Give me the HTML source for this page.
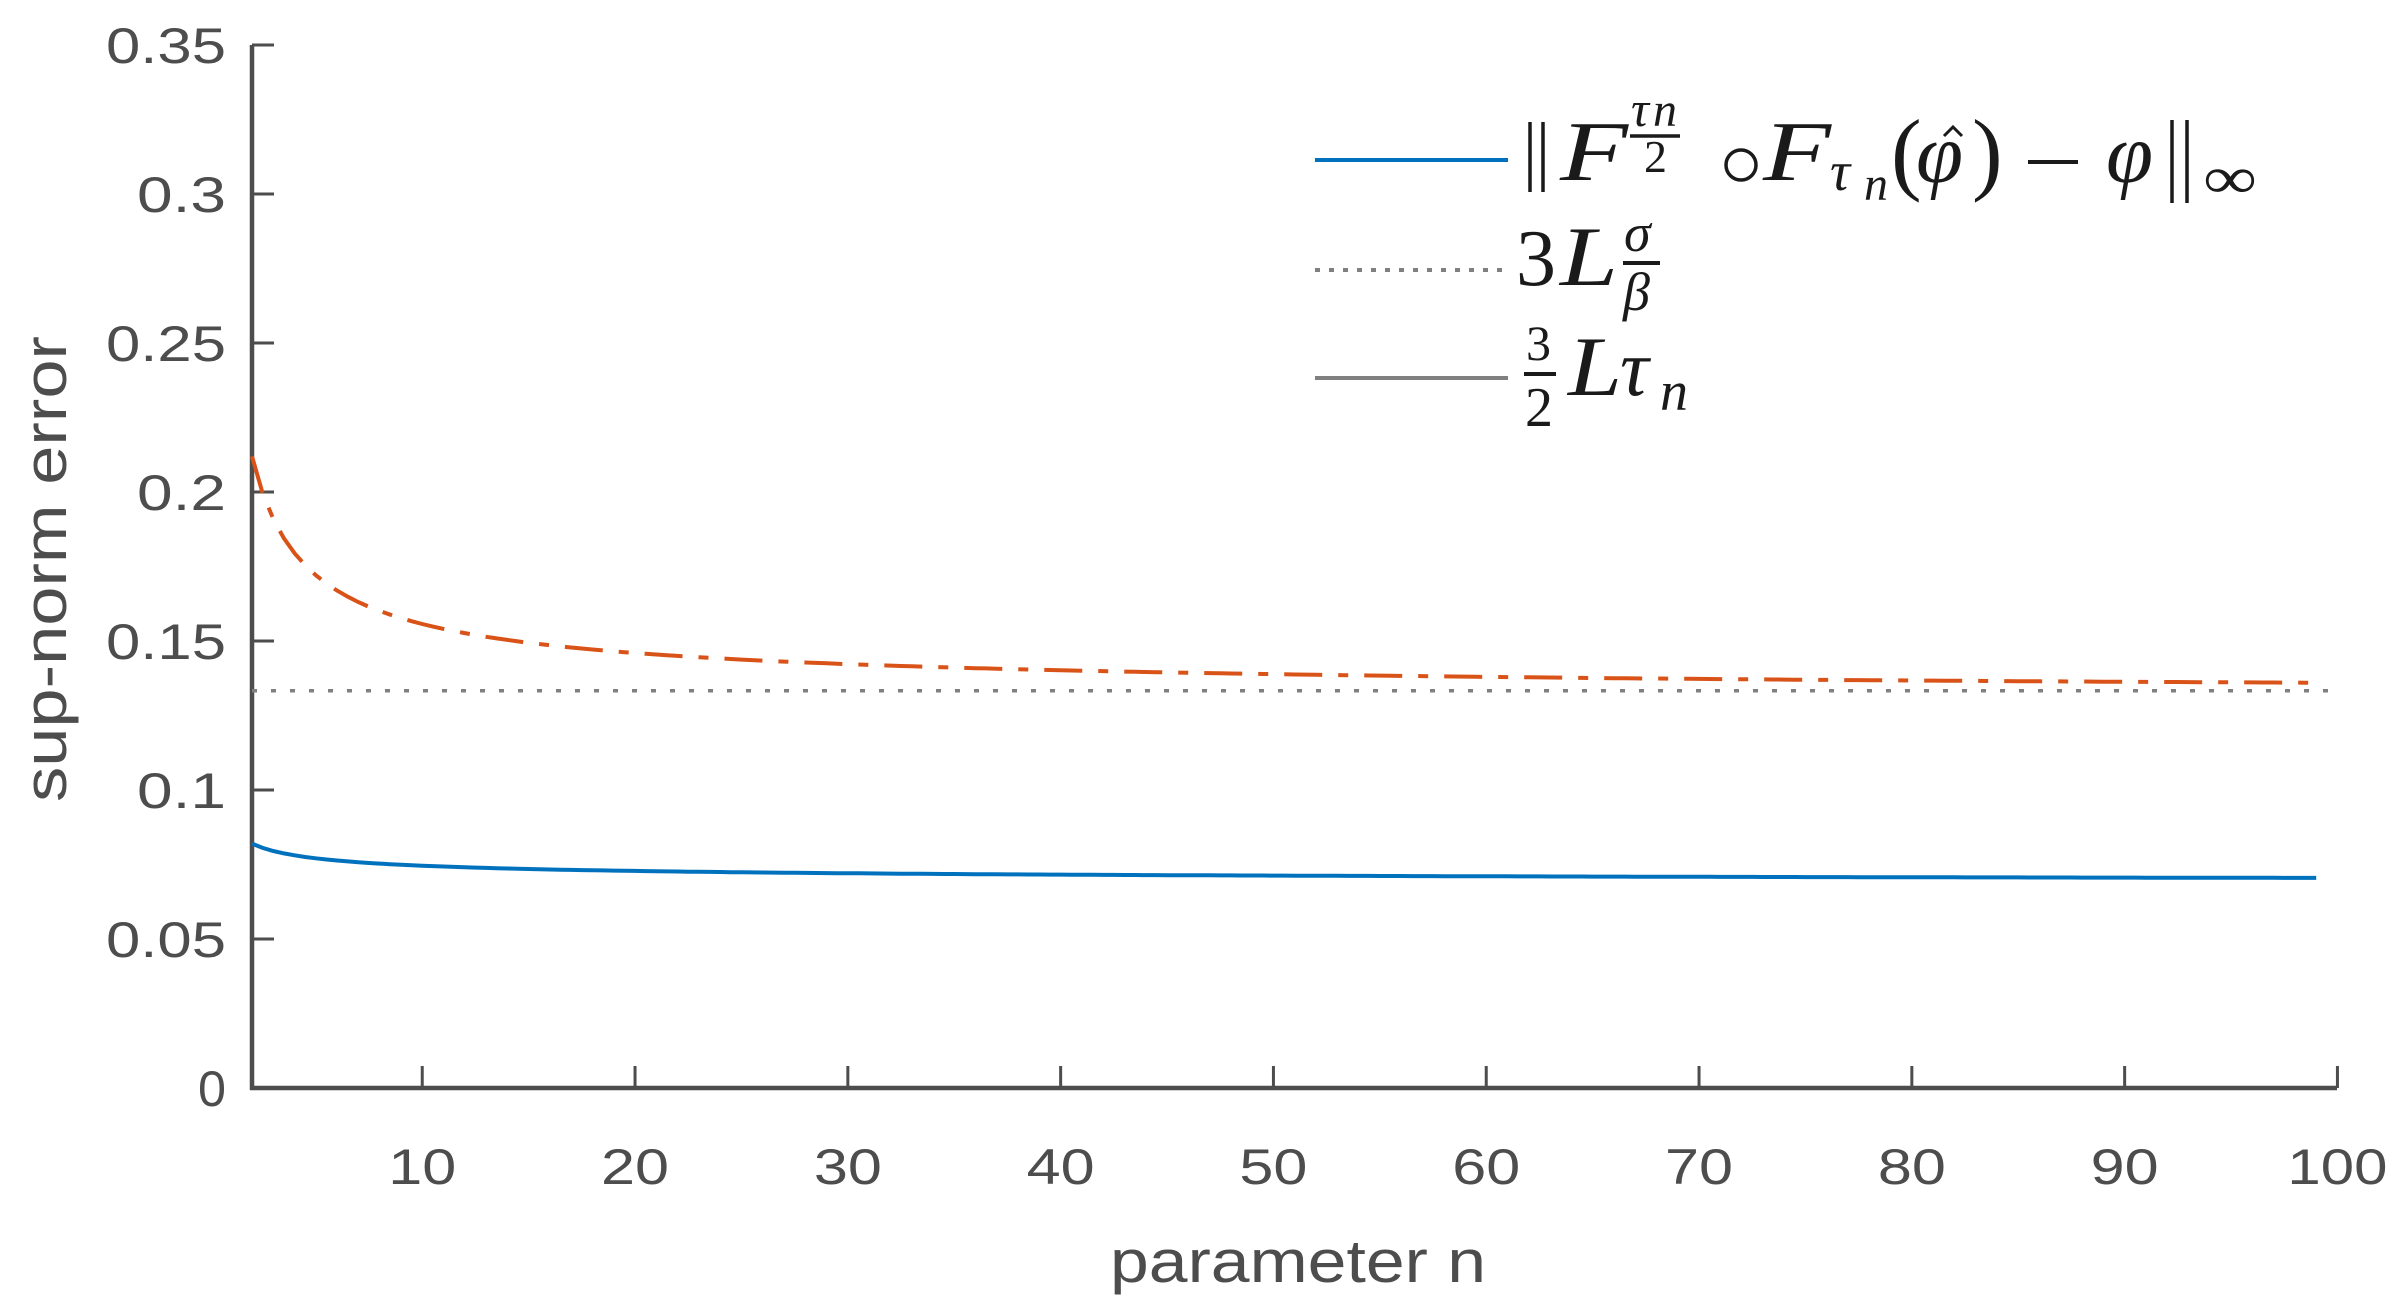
<!DOCTYPE html>
<html><head><meta charset="utf-8">
<style>
body{margin:0;background:#fff;}
svg{display:block}
.t{font-family:"Liberation Sans",sans-serif;fill:#4d4d4d}
.m{font-family:"Liberation Serif",serif;font-style:italic;fill:#1a1a1a}
.u{font-style:normal}
</style></head>
<body>
<svg id="s" width="2405" height="1306" xmlns="http://www.w3.org/2000/svg">
<g id="g"></g>
<text class="t" x="1110" y="1282" style="font-size:60px" textLength="376" lengthAdjust="spacingAndGlyphs">parameter n</text>
<text class="t" transform="translate(66,802) rotate(-90)" style="font-size:60px" textLength="466" lengthAdjust="spacingAndGlyphs">sup-norm error</text>
<line x1="1315" y1="160" x2="1508" y2="160" stroke="#0072BD" stroke-width="4"/>
<line x1="1315" y1="270" x2="1508" y2="270" stroke="#808080" stroke-width="4" stroke-dasharray="5,9"/>
<line x1="1315" y1="378" x2="1508" y2="378" stroke="#808080" stroke-width="4"/>
<g stroke="#1a1a1a" stroke-width="3.5" fill="none">
<line x1="1530" y1="122" x2="1530" y2="192"/><line x1="1543" y1="122" x2="1543" y2="192"/>
<line x1="1630" y1="136" x2="1680" y2="136"/>
<circle cx="1741" cy="165" r="15"/>
<polyline points="1944,136 1953,127 1962,136" stroke-width="3"/>
<line x1="2028" y1="162" x2="2078" y2="162" stroke-width="4"/>
<line x1="2172" y1="120" x2="2172" y2="203"/><line x1="2187" y1="120" x2="2187" y2="203"/>
<line x1="1623" y1="263" x2="1660" y2="263" stroke-width="4"/>
<line x1="1524" y1="374" x2="1556" y2="374" stroke-width="4"/>
</g>
<text class="m" x="1560" y="180" style="font-size:85px" textLength="68" lengthAdjust="spacingAndGlyphs">F</text>
<text class="m" x="1631" y="126" style="font-size:50px">τ</text>
<text class="m" x="1653" y="126" style="font-size:48px">n</text>
<text class="m u" x="1644" y="172" style="font-size:46px">2</text>
<text class="m" x="1763" y="180" style="font-size:85px" textLength="68" lengthAdjust="spacingAndGlyphs">F</text>
<text class="m" x="1830" y="190" style="font-size:56px">τ</text>
<text class="m" x="1864" y="200" style="font-size:48px">n</text>
<text class="m u" x="1891" y="183" style="font-size:92px">(</text>
<text class="m" x="1916" y="182" style="font-size:85px">φ</text>
<text class="m u" x="1972" y="183" style="font-size:92px">)</text>
<text class="m" x="2106" y="182" style="font-size:85px">φ</text>
<text class="m u" x="2203" y="198" style="font-size:60px" textLength="54" lengthAdjust="spacingAndGlyphs">∞</text>
<text class="m u" x="1516" y="285" style="font-size:80px">3</text>
<text class="m" x="1560" y="285" style="font-size:85px" textLength="58" lengthAdjust="spacingAndGlyphs">L</text>
<text class="m" x="1624" y="251" style="font-size:54px">σ</text>
<text class="m" x="1623" y="310" style="font-size:54px">β</text>
<text class="m u" x="1526" y="360" style="font-size:50px">3</text>
<text class="m u" x="1525" y="426" style="font-size:56px">2</text>
<text class="m" x="1568" y="395" style="font-size:85px" textLength="54" lengthAdjust="spacingAndGlyphs">L</text>
<text class="m" x="1620" y="395" style="font-size:80px">τ</text>
<text class="m" x="1660" y="410" style="font-size:56px">n</text>
</svg>
<script>
var g=document.getElementById('g'),h='';
function X(n){return 252+(n-2)*21.28;}
function Y(v){return 1088-v*2980;}
var ax='#4d4d4d';
h+='<line x1="252" y1="45" x2="252" y2="1090" stroke="'+ax+'" stroke-width="4.5"/>';
h+='<line x1="250" y1="1088" x2="2337" y2="1088" stroke="'+ax+'" stroke-width="4.5"/>';
var yl=['0','0.05','0.1','0.15','0.2','0.25','0.3','0.35'];
var yw=[28,120,89,120,89,120,89,120];
for(var i=0;i<=7;i++){var y=1088-i*149;h+='<line x1="252" y1="'+y+'" x2="274" y2="'+y+'" stroke="'+ax+'" stroke-width="3"/>';
h+='<text class="t" style="font-size:50px" x="'+(226-yw[i])+'" y="'+(y+18)+'" textLength="'+yw[i]+'" lengthAdjust="spacingAndGlyphs">'+yl[i]+'</text>';}
for(var n=10;n<=100;n+=10){var x=X(n);h+='<line x1="'+x+'" y1="1088" x2="'+x+'" y2="1066" stroke="'+ax+'" stroke-width="3"/>';
var w=n==100?100:68;
h+='<text class="t" style="font-size:50px" x="'+(x-w/2)+'" y="1184" textLength="'+w+'" lengthAdjust="spacingAndGlyphs">'+n+'</text>';}
h+='<line x1="252" y1="'+Y(0.1333)+'" x2="2337" y2="'+Y(0.1333)+'" stroke="#808080" stroke-width="3.5" stroke-dasharray="5,14"/>';
var o='',b='';
for(var n=2;n<=99;n+=0.5){o+=(n==2?'M':'L')+X(n).toFixed(1)+','+Y(0.1317+0.135*Math.pow(n,-0.75)).toFixed(1);
b+=(n==2?'M':'L')+X(n).toFixed(1)+','+Y(0.0686+0.01895/Math.sqrt(n)).toFixed(1);}
h+='<path d="'+o+'" fill="none" stroke="#D95319" stroke-width="4" stroke-dasharray="38,16,10,16"/>';
h+='<path d="'+b+'" fill="none" stroke="#0072BD" stroke-width="4"/>';
g.innerHTML=h;
</script>
</body></html>
